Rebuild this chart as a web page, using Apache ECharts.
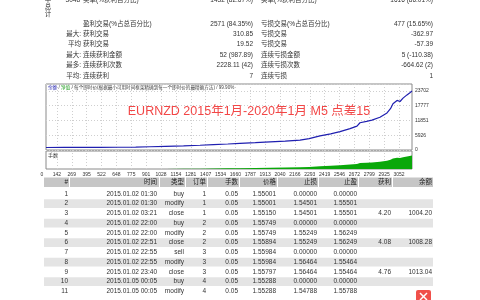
<!DOCTYPE html>
<html><head><meta charset="utf-8">
<script src="https://cdn.jsdelivr.net/npm/echarts@6/dist/echarts.min.js"></script>
<style>html,body{margin:0;padding:0;background:#fff}#c{width:480px;height:300px}</style>
</head><body><div id="c"></div>
<script>
// ---- data ----
const xTickLabels = ['0','142','269','395','522','648','775','901','1028','1154','1281','1407','1534','1660','1787','1913','2040','2166','2293','2419','2546','2672','2799','2925','3052'];
const yTickLabels = ['0','5926','11851','17777','23702'];
const tradeIdx = [0,150,300,451,600,750,869,1000,1150,1288,1400,1520,1622,1750,1873,2000,2124,2200,2291,2380,2458,2542,2600,2625,2680,2725,2792,2851,2880,2901,2935,2960,2985,3018,3040,3060];
const balance  = [1000,1040,1020,1070,1110,1150,1300,1450,1650,1900,2150,2400,2650,2950,3280,3600,3950,4600,5650,6500,7390,8570,9600,10940,11500,11970,13150,14890,16600,18570,19900,19470,20820,22120,22900,23702];
const lots     = [0.05,0.05,0.05,0.05,0.05,0.05,0.06,0.07,0.08,0.09,0.11,0.12,0.13,0.15,0.16,0.18,0.2,0.23,0.28,0.32,0.37,0.43,0.48,0.55,0.57,0.6,0.66,0.75,0.83,0.93,0.99,0.97,1.04,1.1,1.14,1.18];

const topRow = ['3048','卖单(%获利百分比)','1432 (82.67%)','买单(%获利百分比)','1616 (86.01%)'];
const sideLabel = ['平','总','计'];
const statRows = [
  ['盈利交易(%占总百分比)','', '2571 (84.35%)','亏损交易(%占总百分比)','477 (15.65%)'],
  ['获利交易','最大:','310.85','亏损交易','-362.97'],
  ['获利交易','平均','19.52','亏损交易','-57.39'],
  ['连续获利金额','最大:','52 (987.89)','连续亏损金额','5 (-110.38)'],
  ['连续获利次数','最多:','2228.11 (42)','连续亏损次数','-664.62 (2)'],
  ['连续获利','平均:','7','连续亏损','1']
];

const tableHeader = ['#','时间','类型','订单','手数','价格','止损','止盈','获利','余额'];
const tNum    = ['1','2','3','4','5','6','7','8','9','10','11'];
const tTime   = ['2015.01.02 01:30','2015.01.02 01:30','2015.01.02 03:21','2015.01.02 22:00','2015.01.02 22:00','2015.01.02 22:51','2015.01.02 22:55','2015.01.02 22:55','2015.01.02 23:40','2015.01.05 00:05','2015.01.05 00:05'];
const tType   = ['buy','modify','close','buy','modify','close','sell','modify','close','buy','modify'];
const tOrder  = ['1','1','1','2','2','2','3','3','3','4','4'];
const tLots   = ['0.05','0.05','0.05','0.05','0.05','0.05','0.05','0.05','0.05','0.05','0.05'];
const tPrice  = ['1.55001','1.55001','1.55150','1.55749','1.55749','1.55894','1.55984','1.55984','1.55797','1.55288','1.55288'];
const tSL     = ['0.00000','1.54501','1.54501','0.00000','1.55249','1.55249','0.00000','1.56464','1.56464','0.00000','1.54788'];
const tTP     = ['0.00000','1.55501','1.55501','0.00000','1.56249','1.56249','0.00000','1.55464','1.55464','0.00000','1.55788'];
const tProfit = ['','','4.20','','','4.08','','','4.76','',''];
const tBal    = ['','','1004.20','','','1008.28','','','1013.04','',''];

const chartTitle = 'EURNZD 2015年1月-2020年1月 M5 点差15';
const legendParts = ['余额',' / ','净值',' / 每个即时价(根据最小可用时间框架精确到每一个即时价的最精确方法) / 99.90%'];
const lotsLabel = '手数';

// ---- layout ----
const FONT = '"Liberation Sans","Noto Sans CJK SC",sans-serif';
const TXT = '#333';
const g = [];
function t(text, x, y, align, size, color, weight) {
  g.push({type:'text', x:x, y:y, silent:true, z:10,
    style:{text:text, align:align||'left', verticalAlign:'middle', fill:color||TXT,
      font:(weight||'normal')+' '+(size||6.5)+'px '+FONT}});
}
function r(x, y, w, h, color, rad) {
  g.push({type:'rect', silent:true, z:1, shape:{x:x,y:y,width:w,height:h,r:rad||0}, style:{fill:color}});
}
// side label + partially cut top row
sideLabel.forEach((s, i) => t(s, 48, 0.5 + i*7, 'center', 6.5));
t(topRow[0], 80, 0.5, 'right');
t(topRow[1], 83, 0.5, 'left');
t(topRow[2], 253, 0.5, 'right');
t(topRow[3], 261, 0.5, 'left');
t(topRow[4], 433, 0.5, 'right');
// stats block
const statY = [24, 34.5, 44.5, 55, 65.5, 76.5];
statRows.forEach((row, i) => {
  const y = statY[i];
  if (row[1]) t(row[1], 81, y, 'right');
  t(row[0], 83, y, 'left');
  t(row[2], 253, y, 'right');
  t(row[3], 261, y, 'left');
  t(row[4], 433, y, 'right');
});
// chart overlay texts
g.push({type:'text', x:48, y:88, silent:true, z:10,
  style:{text:'{b|'+legendParts[0]+'}{n|'+legendParts[1]+'}{gr|'+legendParts[2]+'}{n|'+legendParts[3]+'}',
    verticalAlign:'middle', font:'4.6px '+FONT,
    rich:{b:{fill:'#2a2ab0', fontSize:4.6, fontFamily:FONT}, gr:{fill:'#1a9a1a', fontSize:4.6, fontFamily:FONT},
      n:{fill:'#444', fontSize:4.6, fontFamily:FONT}}}});
t(chartTitle, 249, 112, 'center', 12.5, '#f24646');
t(lotsLabel, 48, 156, 'left', 5, '#333');

// trade table
const colRight = [68, 157, 184, 206, 238, 276, 317, 357, 391, 432];
const colLeft  = [44, 70, 160, 186, 208, 240, 278, 319, 359, 393];
const colRightEdge = [69, 159, 185, 207, 239, 277, 318, 358, 392, 433];
const hdrY = 177.5, hdrH = 9.5, rowH = 9.75, row0 = 189.5;
tableHeader.forEach((h, c) => {
  r(colLeft[c], hdrY, colRightEdge[c]-colLeft[c], hdrH, '#c6c6c6');
  t(h, colRight[c], hdrY + hdrH/2, 'right', 6.5, '#222');
});
const cols = [tNum, tTime, tType, tOrder, tLots, tPrice, tSL, tTP, tProfit, tBal];
tNum.forEach((_, i) => {
  const y = row0 + i*rowH;
  if (i % 2 === 1) r(44, y, 389, rowH - 1, '#e4e4e4');
  cols.forEach((col, c) => { if (col[i]) t(col[i], colRight[c], y + (rowH-1)/2, 'right'); });
});
// watermark icon (bottom right)
g.push({type:'rect', silent:true, z:20, shape:{x:416,y:290,width:15,height:13,r:2}, style:{fill:'#f0504a'}});
g.push({type:'polyline', silent:true, z:21, shape:{points:[[420,293],[427,300]]}, style:{stroke:'#fff', lineWidth:1.5}});
g.push({type:'polyline', silent:true, z:21, shape:{points:[[427,293],[420,300]]}, style:{stroke:'#fff', lineWidth:1.5}});

const chart = echarts.init(document.getElementById('c'), null, {renderer:'canvas'});
chart.setOption({
  animation:false,
  backgroundColor:'#fff',
  grid:[
    {left:46, top:84, width:366, height:66, show:true, borderColor:'#8a8a8a', borderWidth:1, backgroundColor:'#fff'},
    {left:46, top:151, width:366, height:18, show:true, borderColor:'#8a8a8a', borderWidth:1, backgroundColor:'#fff'},
    {left:42, top:84, width:357, height:85, show:false}
  ],
  xAxis:[
    {gridIndex:0, type:'value', min:0, max:3060, show:false},
    {gridIndex:1, type:'value', min:0, max:3060, show:false},
    {gridIndex:2, type:'category', data:xTickLabels, boundaryGap:false,
      axisLine:{show:false}, axisTick:{show:false},
      axisLabel:{fontSize:5, color:'#333', margin:3, interval:0, fontFamily:FONT},
      splitLine:{show:true, interval:(i)=> i>0, lineStyle:{color:'#cfcfcf', type:[1,2], width:1}}}
  ],
  yAxis:[
    {gridIndex:0, type:'value', position:'right', min:0, max:26500, interval:5925.5,
      axisLine:{show:false}, axisTick:{show:false},
      axisLabel:{fontSize:5, color:'#333', margin:3, showMaxLabel:false, fontFamily:FONT,
        formatter:(v)=> yTickLabels[Math.round(v/5925.5)] || ''},
      splitLine:{show:true, lineStyle:{color:'#cfcfcf', type:[1,2], width:1}}},
    {gridIndex:1, type:'value', min:0.06, max:1.55, show:false},
    {gridIndex:2, type:'value', show:false}
  ],
  series:[
    {type:'line', xAxisIndex:0, yAxisIndex:0, symbol:'none', z:5,
      data: tradeIdx.map((x,i)=>[x, balance[i]]),
      lineStyle:{color:'#1f1fb0', width:1.2}},
    {type:'line', xAxisIndex:1, yAxisIndex:1, symbol:'none', z:5,
      data: tradeIdx.map((x,i)=>[x, lots[i]]),
      lineStyle:{width:0}, areaStyle:{color:'#0aa80a', opacity:1}}
  ],
  graphic: g
});
</script></body></html>
